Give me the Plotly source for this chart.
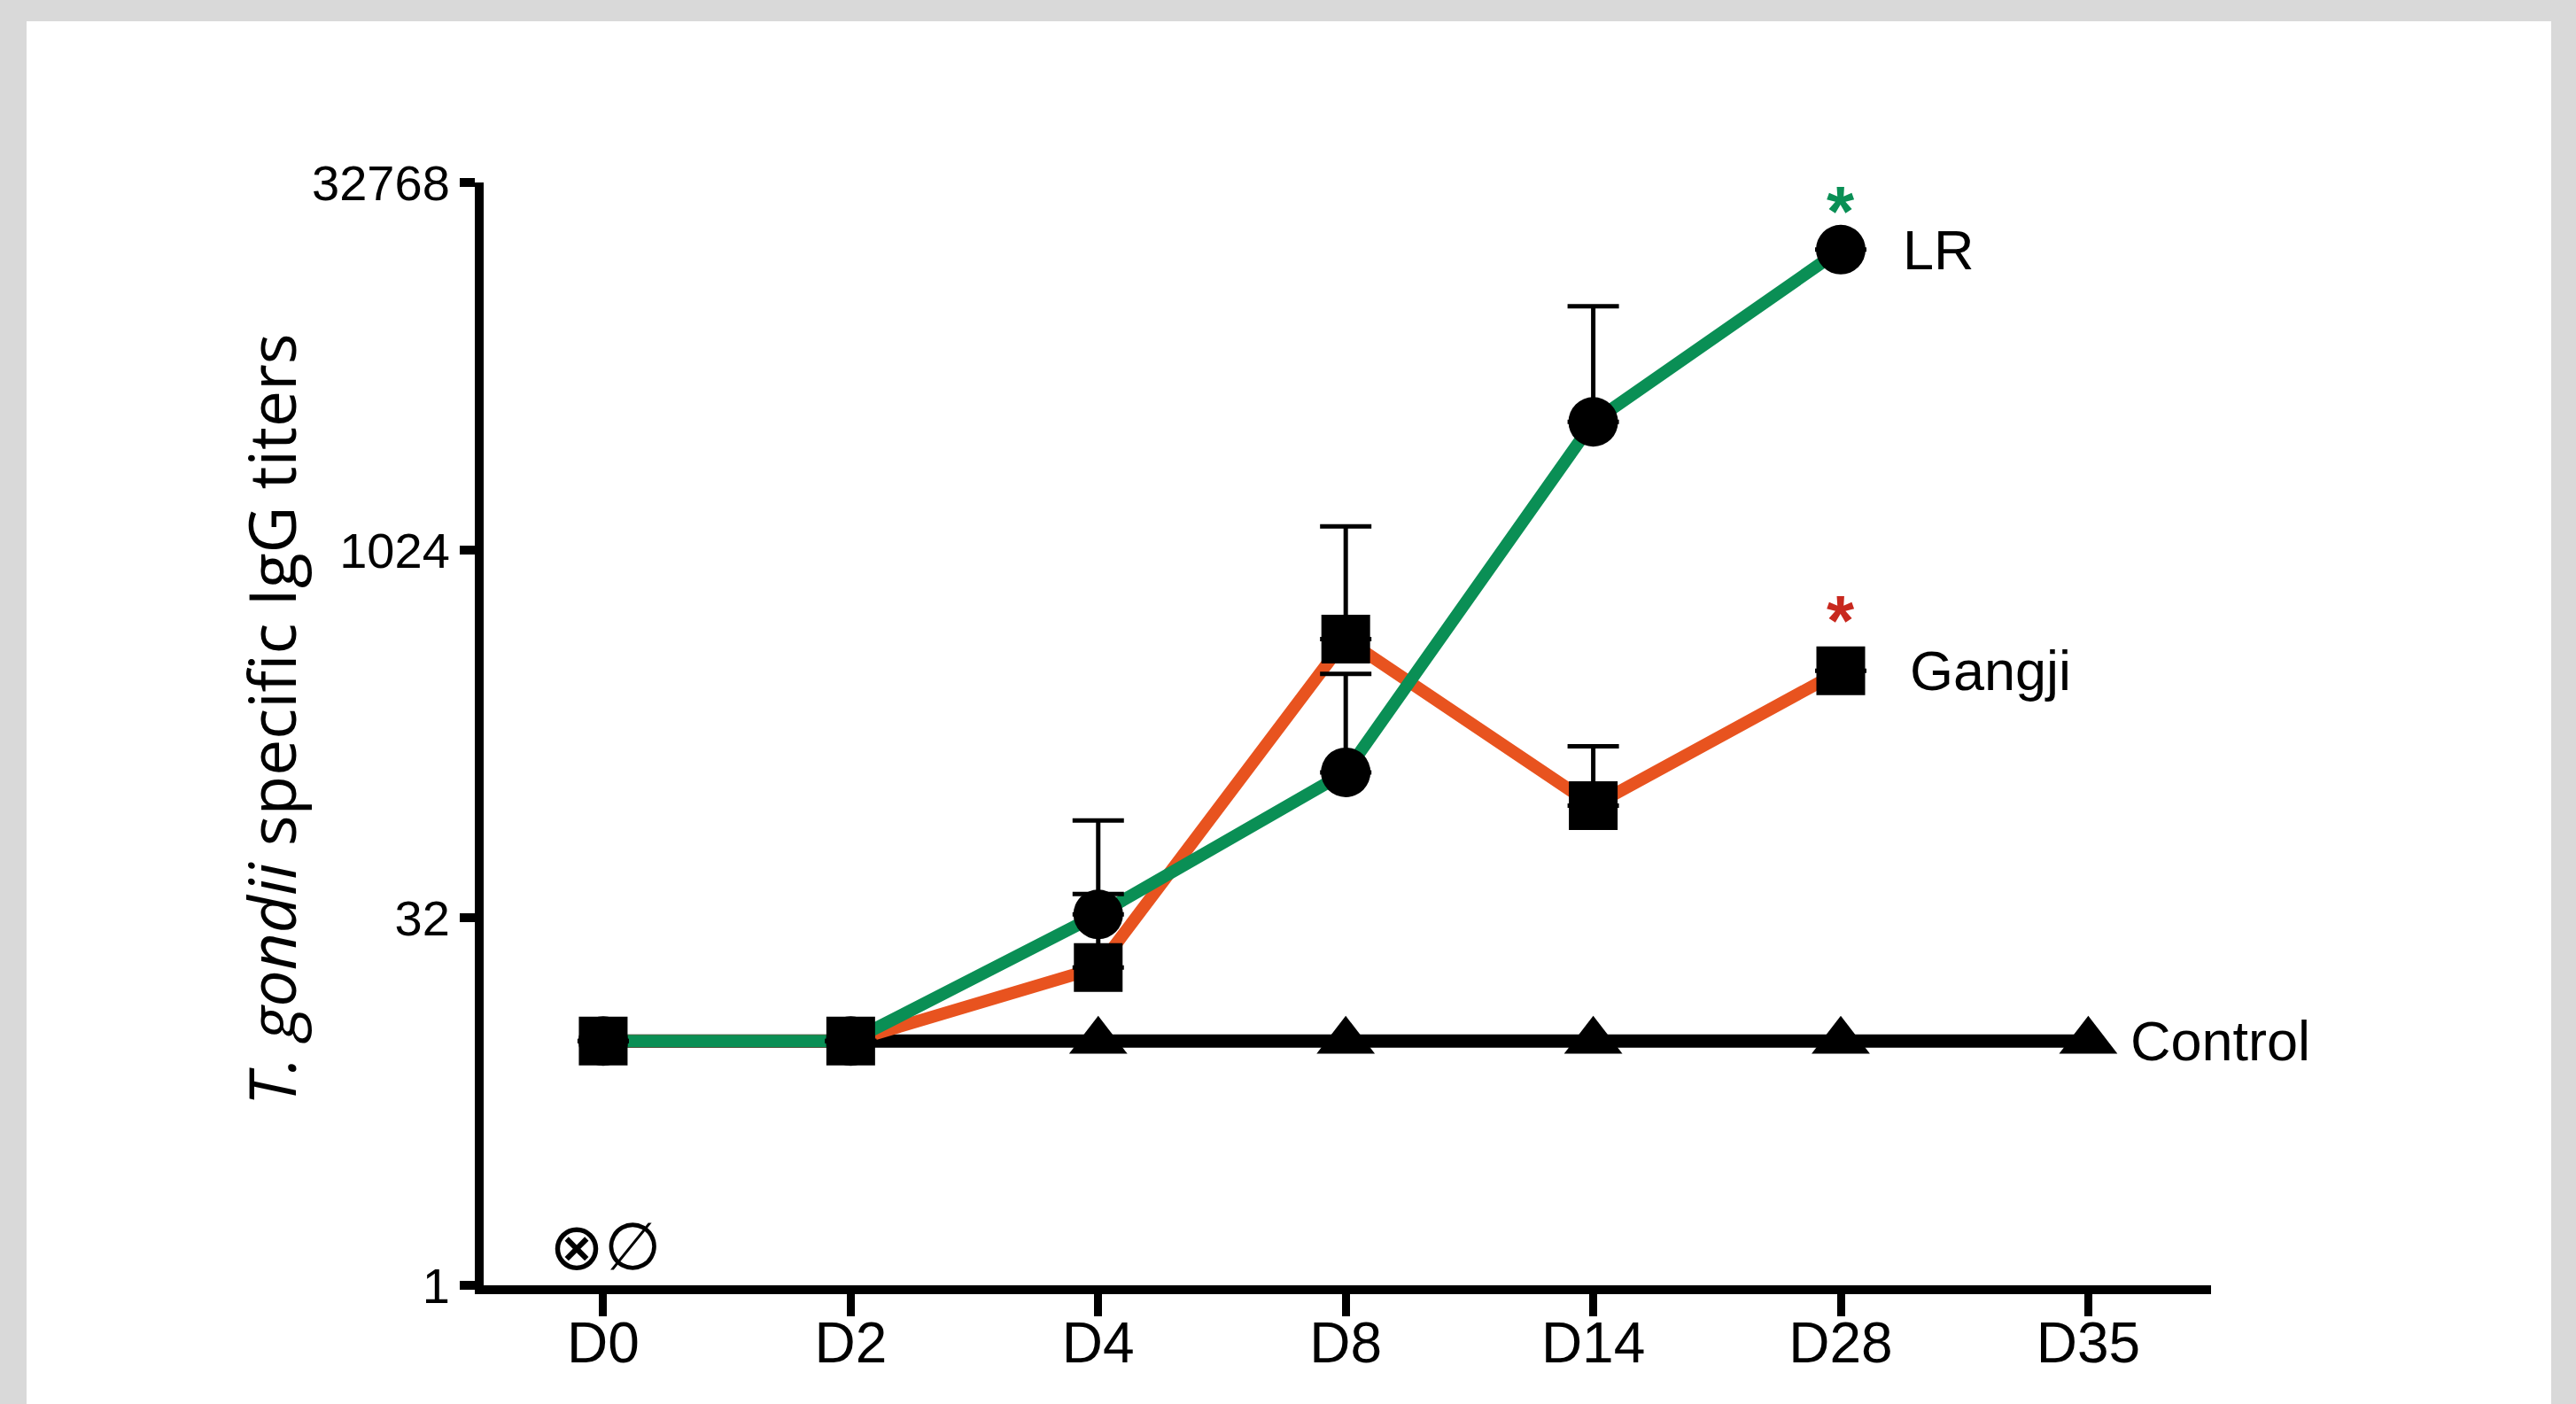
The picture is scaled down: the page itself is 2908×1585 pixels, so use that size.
import numpy as np
import plotly.graph_objects as go

# ---- data ----
days = ["D0", "D2", "D4", "D8", "D14", "D28", "D35"]
lr_days = [0, 1, 2, 3, 4, 5]
lr_vals = [10, 10, 33, 126, 3430, 17400]
lr_upper = [10, 10, 80, 319, 10200, 17400]
gangji_days = [0, 1, 2, 3, 4, 5]
gangji_vals = [10, 10, 20, 442, 92, 328]
gangji_upper = [10, 10, 40, 1280, 161, 328]
control_days = [0, 1, 2, 3, 4, 5, 6]
control_vals = [10, 10, 10, 10, 10, 10, 10]
y_tickvals = [1, 32, 1024, 32768]
y_ticktext = ["1", "32", "1024", "32768"]

GREEN = "#0a8f55"
ORANGE = "#e8531f"
RED = "#c8281e"

W, H = 2908, 1585
L, R, T, B = 546, 412, 206, 134
pw, ph = W - L - R, H - T - B

def px_x(p):
    return (p - L) / pw

def px_y(p):
    return (H - B - p) / ph

lr_err = [u - v for u, v in zip(lr_upper, lr_vals)]
gj_err = [u - v for u, v in zip(gangji_upper, gangji_vals)]

# triangles at D0/D2 are hidden beneath the square markers in the original
tri_opacity = [0 if d in (0, 1) else 1 for d in control_days]

fig = go.Figure()
# lines
fig.add_trace(go.Scatter(x=control_days, y=control_vals, mode="lines",
                         line=dict(color="black", width=15), showlegend=False))
fig.add_trace(go.Scatter(x=gangji_days, y=gangji_vals, mode="lines",
                         line=dict(color=ORANGE, width=14), showlegend=False))
fig.add_trace(go.Scatter(x=lr_days, y=lr_vals, mode="lines",
                         line=dict(color=GREEN, width=14), showlegend=False))
# markers
fig.add_trace(go.Scatter(x=control_days, y=control_vals, mode="markers",
                         marker=dict(symbol="triangle-up", size=57, color="black",
                                     opacity=tri_opacity),
                         showlegend=False))
fig.add_trace(go.Scatter(x=lr_days, y=lr_vals, mode="markers",
                         marker=dict(symbol="circle", size=56, color="black"),
                         error_y=dict(type="data", symmetric=False, array=lr_err,
                                      arrayminus=[0] * len(lr_err), color="black",
                                      thickness=5, width=29),
                         showlegend=False))
fig.add_trace(go.Scatter(x=gangji_days, y=gangji_vals, mode="markers",
                         marker=dict(symbol="square", size=55, color="black"),
                         error_y=dict(type="data", symmetric=False, array=gj_err,
                                      arrayminus=[0] * len(gj_err), color="black",
                                      thickness=5, width=29),
                         showlegend=False))

lab_font = dict(family="Liberation Sans, Arial", size=63, color="black")
ann = [
    dict(x=lr_days[-1], y=np.log10(lr_vals[-1]), text="LR", xanchor="left",
         yanchor="middle", xshift=68, showarrow=False, font=lab_font),
    dict(x=gangji_days[-1], y=np.log10(gangji_vals[-1]), text="Gangji", xanchor="left",
         yanchor="middle", xshift=76, showarrow=False, font=lab_font),
    dict(x=control_days[-1], y=np.log10(control_vals[-1]), text="Control", xanchor="left",
         yanchor="middle", xshift=46, showarrow=False, font=lab_font),
    dict(x=lr_days[-1], y=np.log10(lr_vals[-1]), text="<b>*</b>", xanchor="center",
         yanchor="middle", yshift=43, showarrow=False,
         font=dict(family="Liberation Sans, Arial", size=80, color=GREEN)),
    dict(x=gangji_days[-1], y=np.log10(gangji_vals[-1]), text="<b>*</b>", xanchor="center",
         yanchor="middle", yshift=57, showarrow=False,
         font=dict(family="Liberation Sans, Arial", size=80, color=RED)),
    dict(x=0, y=0, text="⊗∅", xanchor="center", yanchor="middle", xshift=2, yshift=44,
         showarrow=False, font=dict(family="DejaVu Sans", size=74, color="black")),
    dict(xref="paper", yref="paper", x=px_x(305), y=px_y(812),
         text="<i>T. gondii</i> specific IgG titers", textangle=-90,
         xanchor="center", yanchor="middle", showarrow=False,
         font=dict(family="Open Sans", size=73, color="black")),
]

fig.update_layout(
    width=W, height=H,
    margin=dict(l=L, r=R, t=T, b=B, pad=0),
    paper_bgcolor="#d9d9d9",
    plot_bgcolor="white",
    annotations=ann,
    shapes=[dict(type="rect", xref="paper", yref="paper",
                 x0=px_x(30), x1=px_x(2880), y0=px_y(1600), y1=px_y(24),
                 fillcolor="white", line=dict(width=0), layer="below")],
    xaxis=dict(range=[-0.483, 6.496], tickmode="array", tickvals=list(range(len(days))),
               ticktext=days, showgrid=False, zeroline=False, showline=True,
               linecolor="black", linewidth=10, ticks="outside", ticklen=25,
               tickwidth=9, tickcolor="black", ticklabelstandoff=-25,
               tickfont=dict(family="Liberation Sans, Arial", size=64, color="black")),
    yaxis=dict(type="log", range=[0, np.log10(32768)], tickmode="array",
               tickvals=y_tickvals, ticktext=y_ticktext, showgrid=False, zeroline=False,
               showline=True, linecolor="black", linewidth=10, ticks="outside",
               ticklen=17, tickwidth=10, tickcolor="black",
               tickfont=dict(family="Liberation Sans, Arial", size=56, color="black")),
)

fig.write_html("out.html", config={"displayModeBar": False},
               post_script="document.body.style.margin='0';document.body.style.overflow='hidden';document.body.style.background='#d9d9d9';")
